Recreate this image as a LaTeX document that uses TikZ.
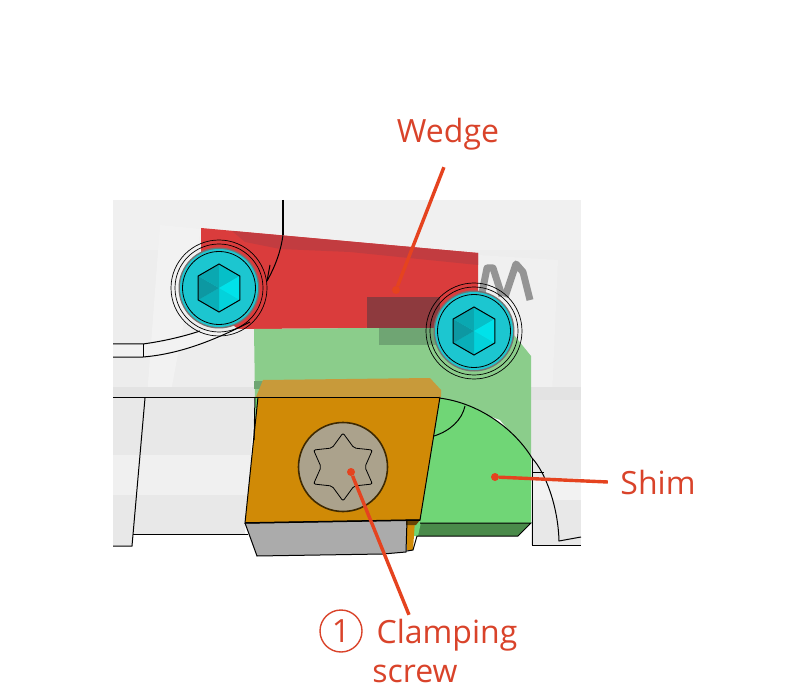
\documentclass[tikz,border=0pt]{standalone}
\usepackage{fontspec}
\setmainfont{Open Sans}
\usetikzlibrary{shapes}

\definecolor{leadercol}{HTML}{E5431F}
\definecolor{labelcol}{HTML}{D9432A}
\definecolor{wedgecol}{HTML}{DA3C3C}
\definecolor{wedgedark}{HTML}{C23C40}
\definecolor{overlapcol}{HTML}{8E3A3E}
\definecolor{shimcol}{HTML}{70D676}
\definecolor{shimpale}{HTML}{8BCD8B}
\definecolor{shimdark}{HTML}{4A8A4A}
\definecolor{shimshade}{HTML}{6FA573}
\definecolor{insertcol}{HTML}{D08A06}
\definecolor{insertpale}{HTML}{C89A3A}
\definecolor{boltcol}{HTML}{1CC6D0}
\definecolor{hexlight}{HTML}{00E2EA}
\definecolor{hexdark}{HTML}{0E949E}
\definecolor{headcol}{HTML}{ABA28C}

\begin{document}
\begin{tikzpicture}[x=1pt, y=-1pt,
	outline/.style={draw=black, line width=1pt},
	label/.style={text=labelcol, font=\fontsize{32}{38}\selectfont, inner sep=0pt},
	leader/.style={draw=leadercol, line width=3.4pt},
	enddot/.style={circle, fill=leadercol, inner sep=0pt, minimum size=8pt}]

	\def \hexr {24}
	\useasboundingbox (0,0) rectangle (800,700);

	% tool body
	\fill[black!7] (113,200) rectangle (581,397);
	\fill[black!6] (113,200) rectangle (581,250);
	\fill[black!5] (160,225) -- (201,229) -- (170,397) -- (147,397) -- cycle;
	\fill[black!6] (478,255) -- (558,260) -- (552,397) -- (478,397) -- cycle;
	\fill[black!11] (113,387) rectangle (255,397);
	\fill[black!11] (531,387) rectangle (581,402);
	\fill[black!9] (113,397) -- (255,397) -- (245,534) -- (133,534) -- (132,546) -- (113,546) -- cycle;
	\fill[black!6] (113,455) rectangle (252,495);
	\fill[black!9] (531,400) rectangle (581,545);
	\fill[black!5] (531,478) rectangle (581,500);
	\fill[black!5] (113,344) -- (143,344) .. controls (165,340) and (185,336) .. (200,331)
		-- (240,331) .. controls (215,340) and (180,354) .. (143,357) -- (113,357) -- cycle;

	% spring
	\draw[black!42, line width=7pt, line join=round] (482,293) -- (487,268) -- (493,268) -- (502,296);
	\draw[black!42, line width=7pt, line join=round] (505,297) -- (516,264) -- (523,272) -- (530,300);

	% wedge
	\fill[wedgecol] (201,228) -- (478,253) -- (478,327) -- (254,329) -- (238,329) -- (201,300) -- cycle;
	\fill[wedgedark] (232,231) -- (478,253) -- (478,265) -- (350,252) -- (280,249) -- (245,242) -- cycle;

	% shim
	\fill[shimpale] (254,329) -- (478,327) -- (510,330) -- (531,356) -- (531,458) -- (500,420) -- (439,397) -- (255,397) -- cycle;
	\fill[shimcol] (255,397) -- (263,397) -- (256,440) -- cycle;
	\fill[shimcol] (439,398) .. controls (480,403) and (515,430) .. (531,458) -- (531,523) -- (419,523) -- cycle;
	\fill[shimdark] (420,523) -- (531,523) -- (518,536) -- (417,536) -- cycle;
	\fill[shimcol] (414,522) -- (421,522) -- (418,536) -- (414,536) -- cycle;
	\fill[white] (518,536) -- (531,523) -- (531,536) -- cycle;
	\fill[overlapcol] (367,297) rectangle (440,328);
	\fill[shimshade] (379,328) rectangle (440,345);
	\fill[shimshade] (254,381) rectangle (264,389);

	% insert
	\fill[insertpale] (263,380) -- (430,378) -- (441,390) -- (441,397) -- (256,397) -- cycle;
	\fill[black!33] (245,523) -- (407,520) -- (407,552) -- (383,554) -- (257,556) -- cycle;
	\fill[insertcol] (407,520) -- (415,520) -- (413,550) -- (407,550) -- cycle;
	\fill[insertcol] (258,397) -- (440,397) -- (420,520) -- (245,523) -- cycle;
	\fill[insertcol!50!black] (406,520) -- (420,520) -- (416,525) -- (406,525) -- cycle;

	% lines of the body
	\draw[outline] (113,397) -- (439,397);
	\draw[outline] (145,398) -- (132,546) -- (113,546);
	\draw[outline] (133,534) -- (248,534);
	\draw[outline] (258,397) -- (245,523) -- (420,520) -- (440,397);
	\draw[outline] (255,397) -- (254,440);
	\draw[outline, line width=1.5pt] (245,523) -- (420,520);
	\draw[outline] (245,523) -- (257,556) -- (383,554) -- (406,552) -- (407,520);
	\draw[outline] (407,551) -- (413,550) -- (417,536) -- (518,536) -- (531,523) -- (420,523);
	\draw[outline] (439,398) .. controls (480,403) and (515,430) .. (532,458)
		.. controls (545,472) and (558,505) .. (559,541) -- (581,537);
	\draw[outline] (465,406) .. controls (462,420) and (450,431) .. (434,436);
	\draw[outline] (532,458) -- (532,545) -- (581,545);
	\draw[outline] (532,472) -- (544,472);
	\draw[outline, line width=1.5pt] (283,200) -- (283,235);
	\draw[outline] (283,235) .. controls (281,250) and (276,265) .. (267,281);
	\draw[outline] (270,265) -- (267,281);
	\draw[outline] (113,344) -- (143,344) .. controls (165,341) and (185,336) .. (200,331);
	\draw[outline] (113,357) -- (143,357) .. controls (180,354) and (215,340) .. (250,322);
	\draw[outline] (143,344) -- (143,357);

	% the two bolts
	\foreach \name/\x/\y in {boltleft/219/288, boltright/474/331} {
		\node[circle, draw, line width=0.7pt, inner sep=0pt, minimum size=96pt] (\name outer) at (\x,\y) {};
		\node[circle, draw, line width=0.7pt, inner sep=0pt, minimum size=88pt] (\name mid) at (\x,\y) {};
		\node[circle, fill=black!55, inner sep=0pt, minimum size=81pt] (\name rim) at (\x,\y) {};
		\node[circle, fill=boltcol, inner sep=0pt, minimum size=78pt] (\name fill) at (\x,\y) {};
		\node[circle, draw, line width=0.8pt, inner sep=0pt, minimum size=73pt] (\name) at (\x,\y) {};
		\foreach \a/\pct in {30/80, 90/35, 150/5, 210/25, 270/55, 330/100} {
			\fill[hexlight!\pct!hexdark] (\x,\y) -- ++({\a}:\hexr) -- ({\x+\hexr*cos(\a+60)},{\y+\hexr*sin(\a+60)}) -- cycle;
		}
		\draw[outline] (\x,\y-\hexr) \foreach \a in {30,90,...,330} { -- ({\x+\hexr*sin(\a+30)},{\y-\hexr*cos(\a+30)}) } -- cycle;
	}

	% clamping screw
	\node[circle, draw=black!70!insertcol, fill=headcol, line width=1.6pt, inner sep=0pt, minimum size=89pt] (screwhead) at (343,467) {};
	\node[star, star points=6, star point ratio=1.55, draw, line width=0.8pt, rounded corners=2pt, inner sep=0pt, minimum size=68pt] (torx) at (343,467) {};

	% labels
	\node[label, minimum height=66pt] (wedgelabel) at (448,134) {Wedge};
	\node[label, minimum width=100pt] (shimlabel) at (658,482) {Shim};
	\node[label, minimum height=40pt] (clamplabel) at (447,635) {Clamping};
	\node[label] (screwlabel) at (415,674) {screw};
	\node[label, circle, draw=labelcol, line width=1.4pt, minimum size=42pt] (numlabel) at (341,631) {1};

	\node[enddot] (wedgedot) at (396,290) {};
	\node[enddot] (shimdot) at (495,477) {};
	\node[enddot] (clampdot) at (351,472) {};
	\draw[leader] (wedgelabel.-97) -- (wedgedot);
	\draw[leader] (shimlabel.west) -- (shimdot);
	\draw[leader] (clamplabel.152) -- (clampdot);

\end{tikzpicture}
\end{document}
